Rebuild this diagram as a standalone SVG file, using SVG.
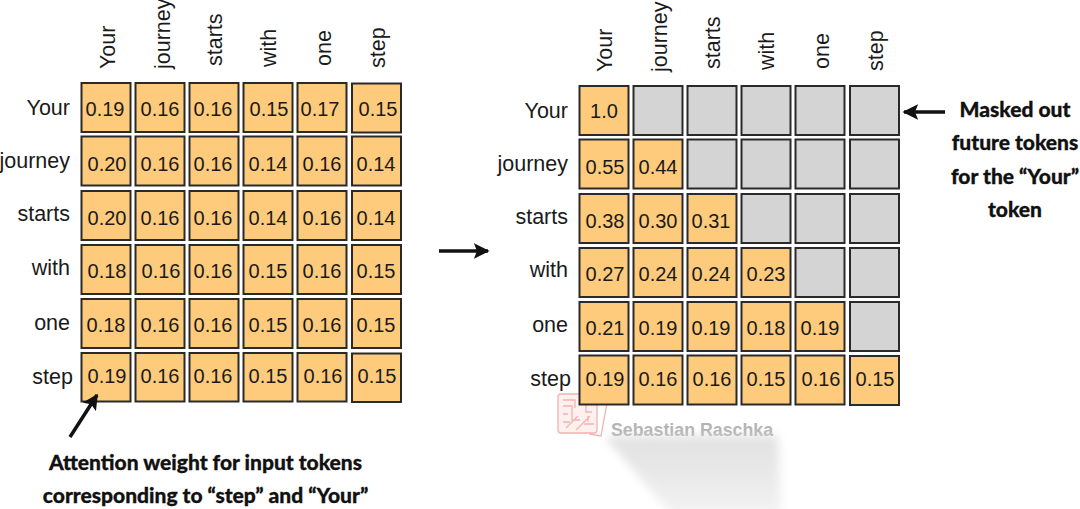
<svg xmlns="http://www.w3.org/2000/svg" width="1080" height="509" viewBox="0 0 1080 509">
<style>
text{font-family:"Liberation Sans",Arial,sans-serif;fill:#1a1a1a}
.c{fill:#fecb7c;stroke:#2a2a2a;stroke-width:2}
.m{fill:#d4d4d4;stroke:#2a2a2a;stroke-width:2}
.v{font-size:20px;text-anchor:middle}
.r{font-size:21.500px;text-anchor:end}
.t{font-size:21.500px}
.b{font-family:Lato,"Open Sans",sans-serif;font-weight:900;font-size:21px;text-anchor:middle;fill:#111;stroke:#111;stroke-width:.3px}
.wm{font-size:17.800px;font-weight:700;fill:#b4b4b4}
.ln{stroke:#111;stroke-width:3.500;fill:none}
.wr{fill:none;stroke:#f3b3b0;stroke-width:1.300}
</style>
<defs>
<marker id="ah" viewBox="0 0 10 10" refX="9" refY="5" markerWidth="4.500" markerHeight="4.500" orient="auto"><path d="M0 0L10 5L0 10L2 5Z" fill="#111"/></marker>
<linearGradient id="fade" x1="0" y1="0" x2="0" y2="1"><stop offset="0" stop-color="#d6d6d6" stop-opacity=".7"/><stop offset=".35" stop-color="#e0e0e0" stop-opacity=".8"/><stop offset="1" stop-color="#f0f0f0" stop-opacity=".8"/></linearGradient>
<filter id="bl" x="-20%" y="-20%" width="140%" height="140%"><feGaussianBlur stdDeviation="5"/></filter>
</defs>

<g id="watermark">
<g class="wr"><path d="M597 397L606 399Q608 400 607 403L601 436L589 434"/><rect x="558" y="394" width="39" height="39" rx="3" fill="#fdf1f0"/><path d="M563 400H575V408M563 406H572V420H580M586 398V412H592M566 428L578 416M576 430L590 416M584 424H594M563 414H568M563 422H570M582 404H594M588 416V422"/></g>
<text class="wm" x="611" y="436">Sebastian Raschka</text>
<path d="M604 436L778 435L781 515L672 515Z" fill="url(#fade)" filter="url(#bl)"/>
</g>

<g id="left-col-labels">
<text class="t" transform="translate(115 69) rotate(-90)">Your</text>
<text class="t" transform="translate(170 69) rotate(-90)">journey</text>
<text class="t" transform="translate(222 66) rotate(-90)">starts</text>
<text class="t" transform="translate(276 67) rotate(-90)">with</text>
<text class="t" transform="translate(331 66) rotate(-90)">one</text>
<text class="t" transform="translate(385 68) rotate(-90)">step</text>
</g>
<g id="left-row-labels">
<text class="r" x="70" y="115">Your</text>
<text class="r" x="70" y="168">journey</text>
<text class="r" x="70" y="221">starts</text>
<text class="r" x="70" y="275">with</text>
<text class="r" x="70" y="330">one</text>
<text class="r" x="73" y="384">step</text>
</g>

<g id="left-grid">
<g id="l00"><rect class="c" x="81.500" y="83" width="49" height="49"/><text class="v" x="105" y="116">0.19</text></g>
<g id="l01"><rect class="c" x="135.500" y="83" width="49" height="49"/><text class="v" x="160" y="116">0.16</text></g>
<g id="l02"><rect class="c" x="189.500" y="83" width="49" height="49"/><text class="v" x="213" y="116">0.16</text></g>
<g id="l03"><rect class="c" x="243.500" y="83" width="49" height="49"/><text class="v" x="269" y="116">0.15</text></g>
<g id="l04"><rect class="c" x="297.500" y="83" width="49" height="49"/><text class="v" x="320" y="116">0.17</text></g>
<g id="l05"><rect class="c" x="352" y="83.500" width="49" height="49"/><text class="v" x="378" y="116">0.15</text></g>
<g id="l10"><rect class="c" x="81.500" y="136.500" width="49" height="49"/><text class="v" x="107" y="171">0.20</text></g>
<g id="l11"><rect class="c" x="135.500" y="136.500" width="49" height="49"/><text class="v" x="160" y="171">0.16</text></g>
<g id="l12"><rect class="c" x="189.500" y="136.500" width="49" height="49"/><text class="v" x="213" y="171">0.16</text></g>
<g id="l13"><rect class="c" x="243.500" y="136.500" width="49" height="49"/><text class="v" x="268" y="171">0.14</text></g>
<g id="l14"><rect class="c" x="297.500" y="136.500" width="49" height="49"/><text class="v" x="322" y="171">0.16</text></g>
<g id="l15"><rect class="c" x="352" y="136.500" width="49" height="49"/><text class="v" x="376" y="171">0.14</text></g>
<g id="l20"><rect class="c" x="81.500" y="191" width="49" height="49"/><text class="v" x="107" y="225">0.20</text></g>
<g id="l21"><rect class="c" x="135.500" y="191" width="49" height="49"/><text class="v" x="160" y="225">0.16</text></g>
<g id="l22"><rect class="c" x="189.500" y="191" width="49" height="49"/><text class="v" x="213" y="225">0.16</text></g>
<g id="l23"><rect class="c" x="243.500" y="191" width="49" height="49"/><text class="v" x="268" y="225">0.14</text></g>
<g id="l24"><rect class="c" x="297.500" y="191" width="49" height="49"/><text class="v" x="322" y="225">0.16</text></g>
<g id="l25"><rect class="c" x="352" y="191" width="49" height="49"/><text class="v" x="376" y="225">0.14</text></g>
<g id="l30"><rect class="c" x="81.500" y="245" width="49" height="49"/><text class="v" x="107" y="278">0.18</text></g>
<g id="l31"><rect class="c" x="135.500" y="245" width="49" height="49"/><text class="v" x="161" y="278">0.16</text></g>
<g id="l32"><rect class="c" x="189.500" y="245" width="49" height="49"/><text class="v" x="213" y="278">0.16</text></g>
<g id="l33"><rect class="c" x="243.500" y="245" width="49" height="49"/><text class="v" x="268" y="278">0.15</text></g>
<g id="l34"><rect class="c" x="297.500" y="245" width="49" height="49"/><text class="v" x="322" y="278">0.16</text></g>
<g id="l35"><rect class="c" x="352" y="245" width="49" height="49"/><text class="v" x="376" y="278">0.15</text></g>
<g id="l40"><rect class="c" x="81.500" y="299" width="49" height="49"/><text class="v" x="106" y="332">0.18</text></g>
<g id="l41"><rect class="c" x="135.500" y="299" width="49" height="49"/><text class="v" x="160" y="332">0.16</text></g>
<g id="l42"><rect class="c" x="189.500" y="299" width="49" height="49"/><text class="v" x="213" y="332">0.16</text></g>
<g id="l43"><rect class="c" x="243.500" y="299" width="49" height="49"/><text class="v" x="268" y="332">0.15</text></g>
<g id="l44"><rect class="c" x="297.500" y="299" width="49" height="49"/><text class="v" x="322" y="332">0.16</text></g>
<g id="l45"><rect class="c" x="352" y="299" width="49" height="49"/><text class="v" x="376" y="332">0.15</text></g>
<g id="l50"><rect class="c" x="81.500" y="353" width="49" height="48.500"/><text class="v" x="107" y="383">0.19</text></g>
<g id="l51"><rect class="c" x="135.500" y="353" width="49" height="48.500"/><text class="v" x="160" y="383">0.16</text></g>
<g id="l52"><rect class="c" x="189.500" y="353" width="49" height="48.500"/><text class="v" x="213" y="383">0.16</text></g>
<g id="l53"><rect class="c" x="243.500" y="353" width="49" height="48.500"/><text class="v" x="268" y="383">0.15</text></g>
<g id="l54"><rect class="c" x="297.500" y="353" width="49" height="48.500"/><text class="v" x="323" y="383">0.16</text></g>
<g id="l55"><rect class="c" x="352" y="353.500" width="49" height="48.500"/><text class="v" x="377" y="383">0.15</text></g>
</g>

<g id="right-col-labels">
<text class="t" transform="translate(612 72) rotate(-90)">Your</text>
<text class="t" transform="translate(667 72) rotate(-90)">journey</text>
<text class="t" transform="translate(720 69) rotate(-90)">starts</text>
<text class="t" transform="translate(774 70) rotate(-90)">with</text>
<text class="t" transform="translate(829 69) rotate(-90)">one</text>
<text class="t" transform="translate(883 71) rotate(-90)">step</text>
</g>
<g id="right-row-labels">
<text class="r" x="568" y="118">Your</text>
<text class="r" x="568" y="171">journey</text>
<text class="r" x="568" y="224">starts</text>
<text class="r" x="568" y="277">with</text>
<text class="r" x="568" y="332">one</text>
<text class="r" x="571" y="386">step</text>
</g>

<g id="right-grid">
<g id="r00"><rect class="c" x="579.500" y="86" width="49" height="49"/><text class="v" x="604" y="118">1.0</text></g>
<rect id="r01" class="m" x="633.500" y="86" width="49" height="49"/>
<rect id="r02" class="m" x="687.500" y="86" width="49" height="49"/>
<rect id="r03" class="m" x="741.500" y="86" width="49" height="49"/>
<rect id="r04" class="m" x="795.500" y="86" width="49" height="49"/>
<rect id="r05" class="m" x="850" y="86" width="49" height="49"/>
<g id="r10"><rect class="c" x="579.500" y="139.500" width="49" height="49"/><text class="v" x="605" y="174">0.55</text></g>
<g id="r11"><rect class="c" x="633.500" y="139.500" width="49" height="49"/><text class="v" x="658" y="174">0.44</text></g>
<rect id="r12" class="m" x="687.500" y="139.500" width="49" height="49"/>
<rect id="r13" class="m" x="741.500" y="139.500" width="49" height="49"/>
<rect id="r14" class="m" x="795.500" y="139.500" width="49" height="49"/>
<rect id="r15" class="m" x="850" y="139.500" width="49" height="49"/>
<g id="r20"><rect class="c" x="579.500" y="194" width="49" height="49"/><text class="v" x="605" y="228">0.38</text></g>
<g id="r21"><rect class="c" x="633.500" y="194" width="49" height="49"/><text class="v" x="658" y="228">0.30</text></g>
<g id="r22"><rect class="c" x="687.500" y="194" width="49" height="49"/><text class="v" x="711" y="228">0.31</text></g>
<rect id="r23" class="m" x="741.500" y="194" width="49" height="49"/>
<rect id="r24" class="m" x="795.500" y="194" width="49" height="49"/>
<rect id="r25" class="m" x="850" y="194" width="49" height="49"/>
<g id="r30"><rect class="c" x="579.500" y="248" width="49" height="49"/><text class="v" x="605" y="281">0.27</text></g>
<g id="r31"><rect class="c" x="633.500" y="248" width="49" height="49"/><text class="v" x="658" y="281">0.24</text></g>
<g id="r32"><rect class="c" x="687.500" y="248" width="49" height="49"/><text class="v" x="711" y="281">0.24</text></g>
<g id="r33"><rect class="c" x="741.500" y="248" width="49" height="49"/><text class="v" x="766" y="281">0.23</text></g>
<rect id="r34" class="m" x="795.500" y="248" width="49" height="49"/>
<rect id="r35" class="m" x="850" y="248" width="49" height="49"/>
<g id="r40"><rect class="c" x="579.500" y="302" width="49" height="49"/><text class="v" x="605" y="335">0.21</text></g>
<g id="r41"><rect class="c" x="633.500" y="302" width="49" height="49"/><text class="v" x="658" y="335">0.19</text></g>
<g id="r42"><rect class="c" x="687.500" y="302" width="49" height="49"/><text class="v" x="711" y="335">0.19</text></g>
<g id="r43"><rect class="c" x="741.500" y="302" width="49" height="49"/><text class="v" x="766" y="335">0.18</text></g>
<g id="r44"><rect class="c" x="795.500" y="302" width="49" height="49"/><text class="v" x="820" y="335">0.19</text></g>
<rect id="r45" class="m" x="850" y="302" width="49" height="49"/>
<g id="r50"><rect class="c" x="579.500" y="355.500" width="49" height="49"/><text class="v" x="605" y="386">0.19</text></g>
<g id="r51"><rect class="c" x="633.500" y="355.500" width="49" height="49"/><text class="v" x="658" y="386">0.16</text></g>
<g id="r52"><rect class="c" x="687.500" y="355.500" width="49" height="49"/><text class="v" x="712" y="386">0.16</text></g>
<g id="r53"><rect class="c" x="741.500" y="355.500" width="49" height="49"/><text class="v" x="766" y="386">0.15</text></g>
<g id="r54"><rect class="c" x="795.500" y="355.500" width="49" height="49"/><text class="v" x="821" y="386">0.16</text></g>
<g id="r55"><rect class="c" x="850" y="356" width="49" height="49"/><text class="v" x="875" y="386">0.15</text></g>
</g>

<g id="connectors">
<path class="ln" marker-end="url(#ah)" d="M70 437L97 395"/>
<path class="ln" marker-end="url(#ah)" d="M439 251H488"/>
<path class="ln" marker-end="url(#ah)" d="M945 112H904"/>
</g>

<g id="annotation-weight">
<text class="b" x="205.500" y="470">Attention weight for input tokens</text>
<text class="b" x="205.500" y="503">corresponding to “step” and “Your”</text>
</g>
<g id="annotation-masked">
<text class="b" x="1015" y="117">Masked out</text>
<text class="b" x="1015" y="150">future tokens</text>
<text class="b" x="1015" y="184">for the “Your”</text>
<text class="b" x="1015" y="217">token</text>
</g>
</svg>
